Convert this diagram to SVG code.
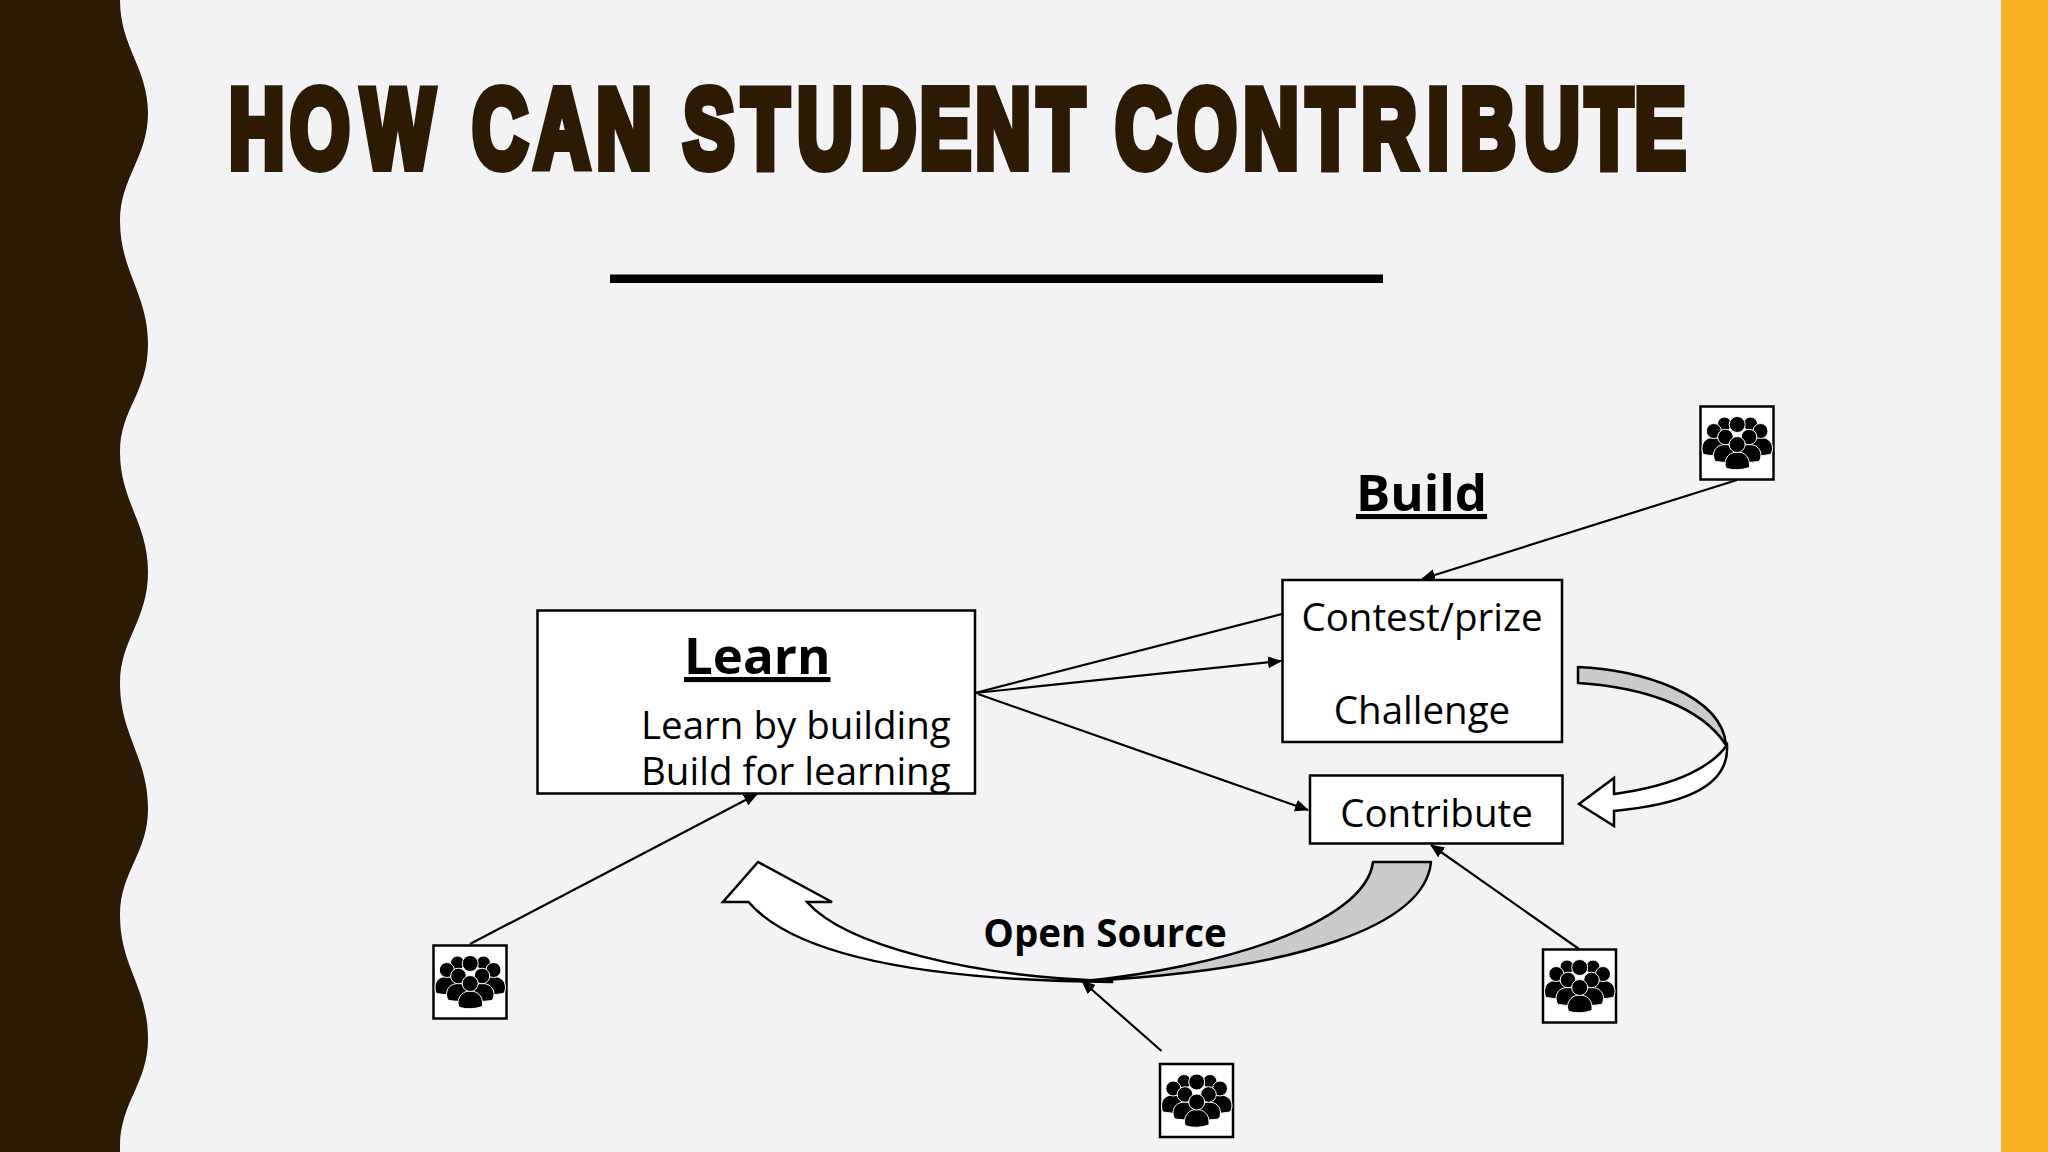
<svg xmlns="http://www.w3.org/2000/svg" xmlns:xlink="http://www.w3.org/1999/xlink" width="2048" height="1152" viewBox="0 0 2048 1152">
<style>
.box{fill:#fff;stroke:#000;stroke-width:2.5}
.conn{fill:none;stroke:#000;stroke-width:2.2}
.t{font-family:"Open Sans","Noto Sans",sans-serif;fill:#000;font-size:38.500px}
.h{font-size:51px}
.m{text-anchor:middle}
.b{font-weight:700}
.u{text-decoration:underline}
.gray{fill:#cbcacc;stroke:#000;stroke-width:2.5;stroke-linejoin:round}
.white{fill:#fff;stroke:#000;stroke-width:2.5;stroke-linejoin:miter}
.p{fill:#000;stroke:#fff;stroke-width:1}
</style>
<defs>
<marker id="ah" markerUnits="userSpaceOnUse" markerWidth="14" markerHeight="12" refX="13" refY="6" orient="auto"><path d="M0 0L14 6L0 12Z" fill="#000"/></marker>
<g id="crowd">
<rect class="box" x="0" y="0" width="73" height="73"/>
<circle class="p" cx="24" cy="17.500" r="7"/><circle class="p" cx="50" cy="17.500" r="7"/><circle class="p" cx="36.700" cy="18" r="8"/>
<path class="p" d="M1.500 42C1.500 35 6 31 13 31C20 31 24 35 24 42V49Q12 50 3 48Q1.500 46 1.500 42Z"/>
<path class="p" d="M72 42C72 35 67 31 60 31C53 31 49 35 49 42V49Q61 50 70 48Q72 46 72 42Z"/>
<circle class="p" cx="13.300" cy="24.500" r="7.500"/><circle class="p" cx="60" cy="24.500" r="7.500"/>
<path class="p" d="M13 49C13 42 18 38 25 38C32 38 37 42 37 49V55Q25 57 15 55Q13 53 13 49Z"/>
<path class="p" d="M60.500 49C60.500 42 55.500 38 48.500 38C41.500 38 36.500 42 36.500 49V55Q48.500 57 58.500 55Q60.500 53 60.500 49Z"/>
<circle class="p" cx="25" cy="30.500" r="7.800"/><circle class="p" cx="48.500" cy="30.500" r="7.800"/>
<path class="p" d="M24.500 58C24.500 50 30 45.500 36.700 45.500C43.500 45.500 49 50 49 58V61Q37 65 26.500 62Q24.500 61 24.500 58Z"/>
<circle class="p" cx="36.700" cy="38" r="8"/>
</g>
</defs>
<rect width="2048" height="1152" fill="#f3f2f5"/>
<rect x="2001" y="0" width="47" height="1152" fill="#fbb226"/>
<path d="M0 0H120C120 47 148 68 148 113C148 157 120 178 120 221C120 271 148 294 148 344C148 393 120 409 120 452C120 501 148 523 148 572C148 620 120 640 120 683C120 735 148 757 148 809C148 853 120 872 120 915C120 967 148 987 148 1039C148 1083 120 1103 120 1146V1152H0Z" fill="#2c1a03"/>
<g transform="scale(0.68 1)">
<text id="title" y="167" x="337 427 532.400 620 694.900 786.100 877.200 950 1005.200 1091.500 1172.800 1266.200 1353 1434.600 1526.100 1600 1640.500 1731.400 1828.700 1921.700 2002.200 2099.100 2147.800 2242 2332 2404" font-family="'Liberation Sans',Arial,sans-serif" font-weight="700" font-size="112" fill="#2c1a03" stroke="#2c1a03" stroke-width="10" stroke-linejoin="miter">HOW CAN STUDENT CONTRIBUTE</text>
</g>
<rect x="610" y="274.500" width="773" height="8.500" fill="#000"/>
<g id="connectors">
<path class="conn" d="M975 693L1282 614"/>
<path class="conn" marker-end="url(#ah)" d="M975 693L1281 661"/>
<path class="conn" marker-end="url(#ah)" d="M978 694L1308 810"/>
<path class="conn" marker-end="url(#ah)" d="M1737 480L1422 579"/>
<path class="conn" marker-end="url(#ah)" d="M470 944L757 794"/>
<path class="conn" marker-end="url(#ah)" d="M1579 949L1431 845"/>
<path class="conn" marker-end="url(#ah)" d="M1161.500 1051L1082 981"/>
<path class="gray" d="M1578 667C1640 669 1722 695 1726 745C1700 705 1640 687 1578 683Z"/>
<path class="white" d="M1727 745C1713 765 1680 785 1614 794V778L1579 804L1614 826V811C1675 805 1730 790 1727 745Z"/>
<path class="white" d="M1112 981C970 977 845 945 807 902H832L758 862L723 902H748.500C790 950 900 980 1112 982Z"/>
<path class="gray" d="M1373 862H1431C1425 925 1300 970 1085 981C1215 968 1365 925 1373 862Z"/>
</g>
<g id="learn"><rect class="box" x="537.500" y="610.500" width="437.500" height="183"/>
<text class="t h b u" x="684" y="674">Learn</text>
<text class="t" x="641" y="739">Learn by building</text>
<text class="t" x="641" y="785">Build for learning</text></g>
<g id="contest"><rect class="box" x="1282.500" y="580" width="279.500" height="162"/>
<text class="t m" x="1422" y="631">Contest/prize</text>
<text class="t m" x="1422" y="724">Challenge</text></g>
<g id="contribute"><rect class="box" x="1310" y="775.500" width="252.500" height="68"/>
<text class="t m" x="1436.500" y="827">Contribute</text></g>
<g id="build"><text class="t h b u m" x="1421.500" y="511">Build</text></g>
<g id="opensource"><text class="t b m" x="1105" y="947">Open Source</text></g>
<use id="crowd1" xlink:href="#crowd" href="#crowd" x="1700.500" y="406.500"/>
<use id="crowd2" xlink:href="#crowd" href="#crowd" x="433.500" y="945.500"/>
<use id="crowd3" xlink:href="#crowd" href="#crowd" x="1543" y="949.500"/>
<use id="crowd4" xlink:href="#crowd" href="#crowd" x="1160" y="1064"/>
</svg>
